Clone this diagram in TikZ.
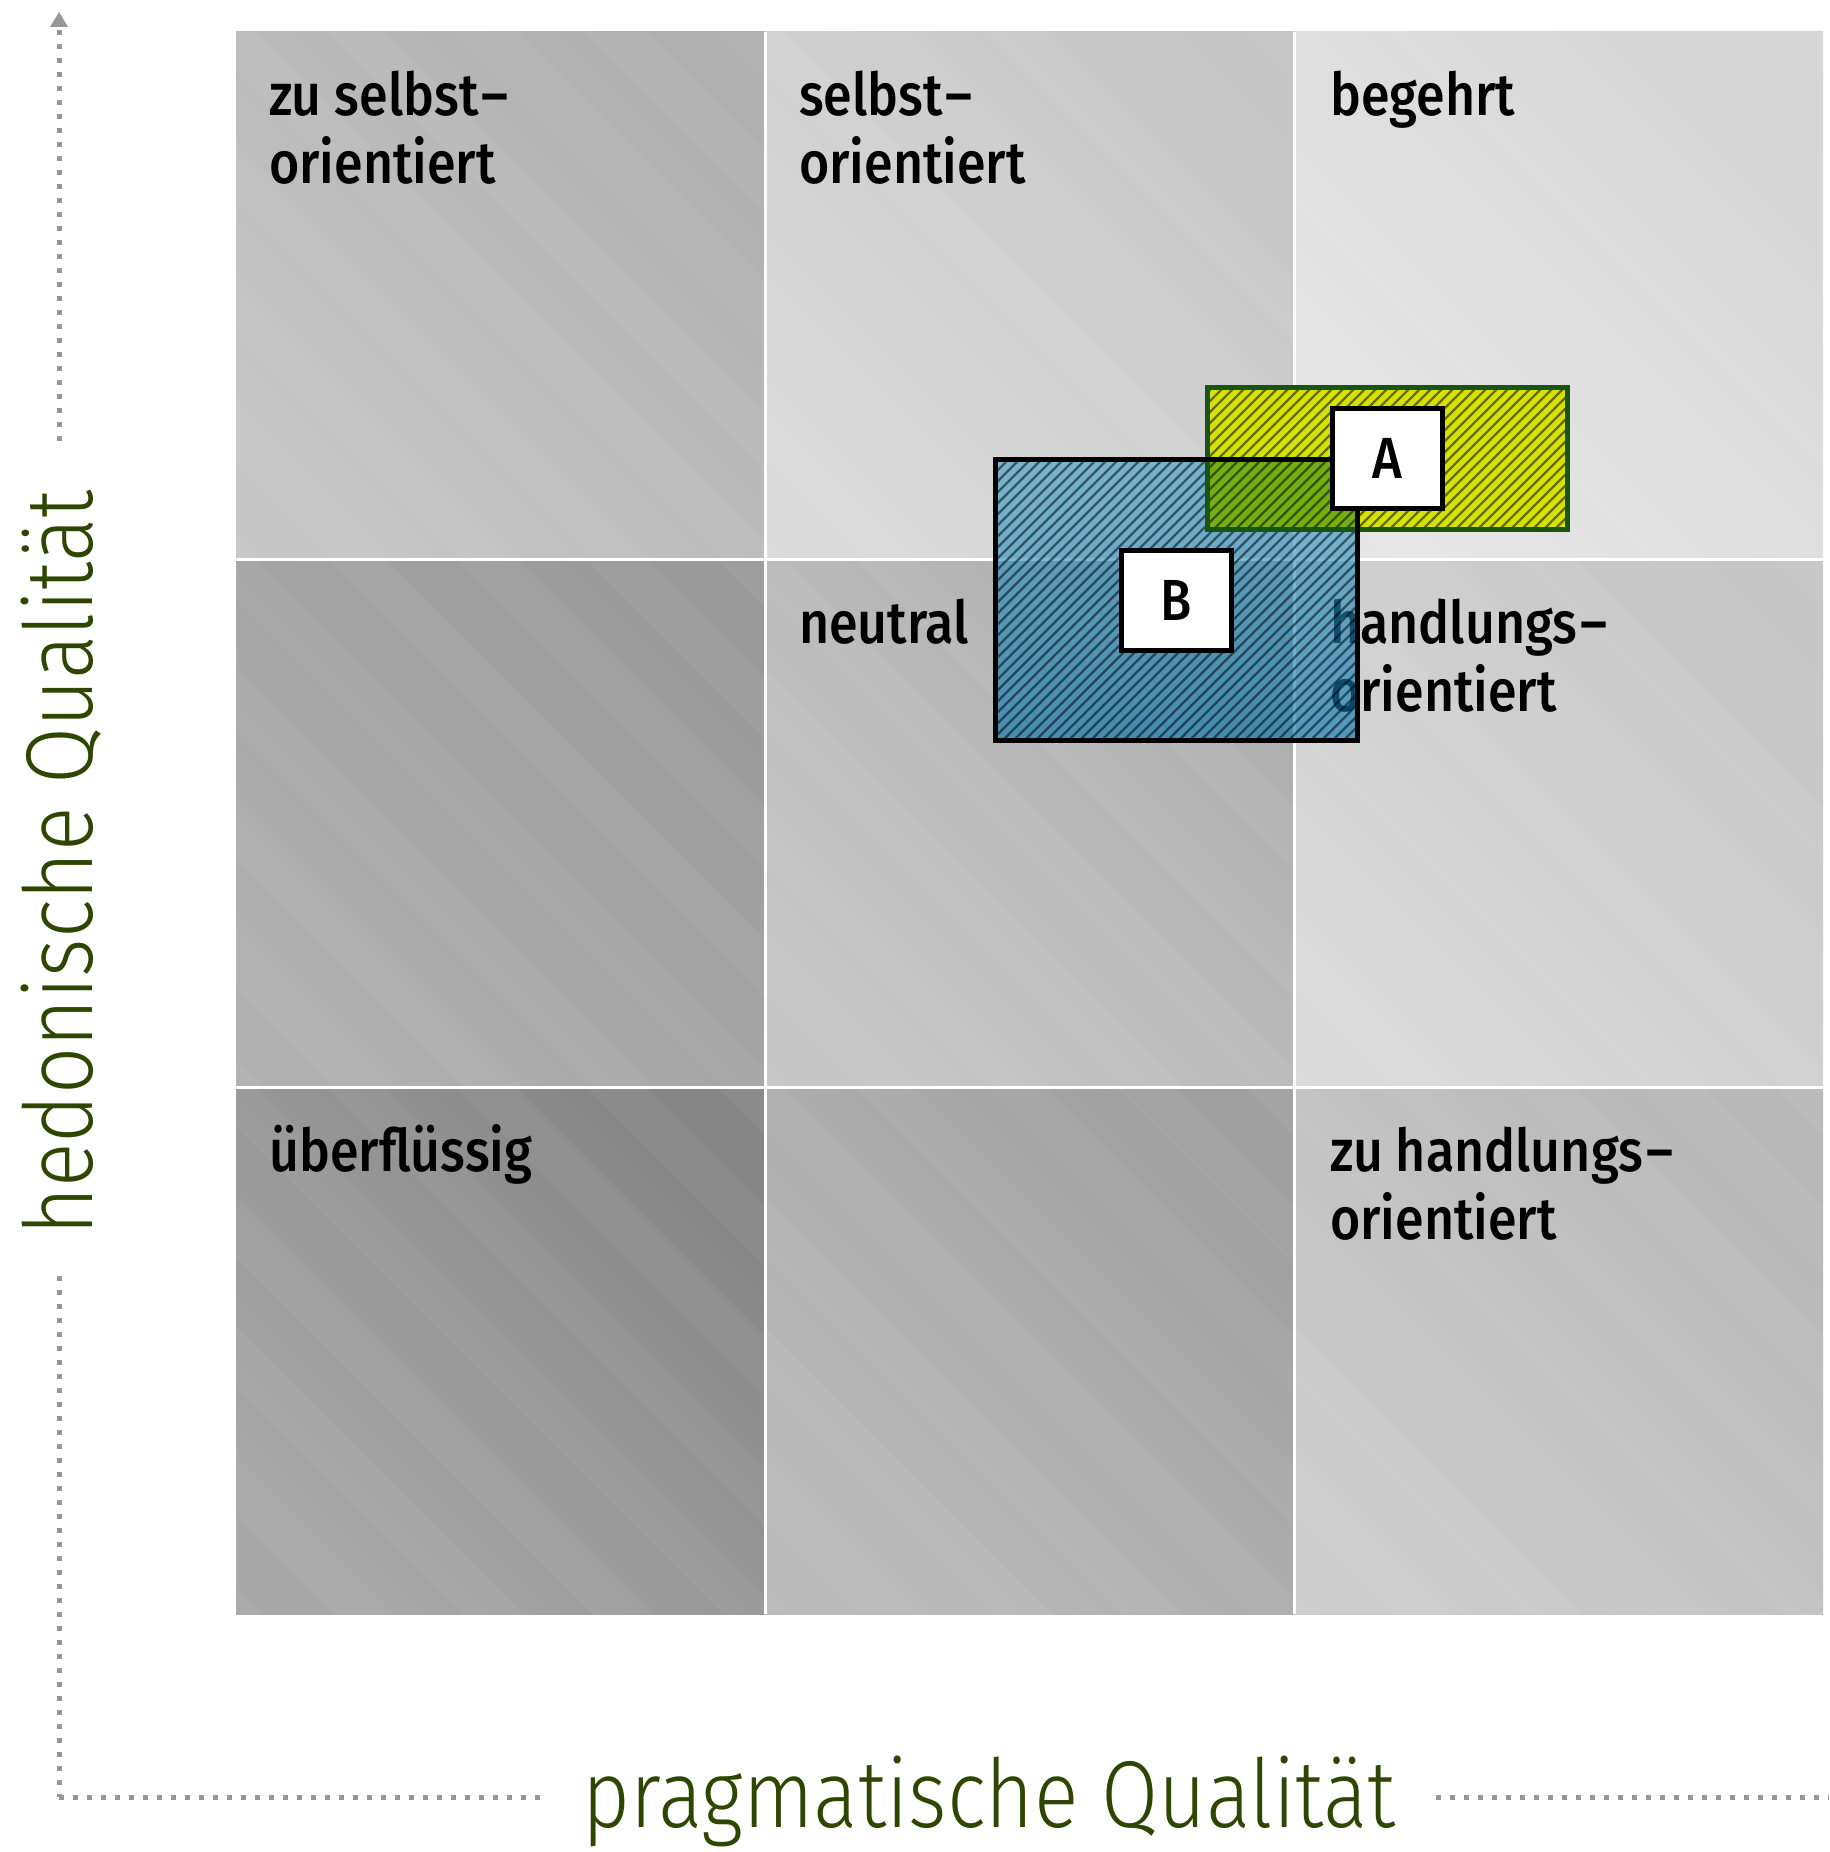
\documentclass[tikz,border=0pt]{standalone}
\usepackage{fontspec}
\setmainfont{Fira Sans Medium}[FakeStretch=0.88]
\newfontfamily\axisfont{Fira Sans Light}[FakeStretch=0.87]
\definecolor{dotgray}{HTML}{979797}
\definecolor{axisgreen}{HTML}{2E4600}
\definecolor{afillc}{HTML}{D6E200}
\definecolor{aborderc}{HTML}{175510}
\definecolor{btop}{HTML}{41A1CB}
\definecolor{bbot}{HTML}{0072AC}
\definecolor{ovgreen}{HTML}{74AE10}
\definecolor{cAl}{HTML}{C6C6C6}\definecolor{cAd}{HTML}{B0B0B0}
\definecolor{cBl}{HTML}{DADADA}\definecolor{cBd}{HTML}{C6C6C6}
\definecolor{cCl}{HTML}{E6E6E6}\definecolor{cCd}{HTML}{D6D6D6}
\definecolor{cDl}{HTML}{B0B0B0}\definecolor{cDd}{HTML}{9A9A9A}
\definecolor{cEl}{HTML}{C6C6C6}\definecolor{cEd}{HTML}{AEAEAE}
\definecolor{cFl}{HTML}{DADADA}\definecolor{cFd}{HTML}{C6C6C6}
\definecolor{cGl}{HTML}{A8A8A8}\definecolor{cGd}{HTML}{868686}
\definecolor{cHl}{HTML}{BABABA}\definecolor{cHd}{HTML}{A0A0A0}
\definecolor{cIl}{HTML}{CCCCCC}\definecolor{cId}{HTML}{B8B8B8}
\newcommand\twoline[2]{\vtop{\hbox{#1}\hbox{#2}}}
\newcommand\hy{\kern3pt–}
\newcommand\cellshade[4]{%
  \shade[shading=axis, bottom color=#3, top color=#4, shading angle=-45] (#1,#2) rectangle ++(529,527);
  \begin{scope}
    \clip (#1,#2) rectangle ++(529,527);
    \foreach \d in {-560,-430,...,520}
      \fill[white, opacity=0.045] ({#1+\d},#2) -- ++(60,0) -- ++(600,600) -- ++(-60,0) -- cycle;
  \end{scope}}
\begin{document}
\begin{tikzpicture}[x=1pt,y=-1pt,
  celltext/.style={anchor=base west, inner sep=0pt, font=\fontsize{59}{68}\selectfont, text=black},
  axislabel/.style={font=\axisfont\fontsize{95}{100}\selectfont, text=axisgreen, inner xsep=40pt, inner ysep=0pt},
  dotline/.style={draw=dotgray, line width=5pt, dash pattern=on 5pt off 9pt},
  gridline/.style={draw=white, line width=3pt},
  labelbox/.style={draw=black, fill=white, line width=5pt, minimum width=110pt, minimum height=100pt, inner sep=0pt, font=\fontsize{58}{58}\selectfont},
  hatchline/.style={draw=black, draw opacity=0.52, line width=2.2pt},
  aborder/.style={draw=aborderc, line width=5pt},
  bborder/.style={draw=black, line width=5pt},
]
\useasboundingbox (0,0) rectangle (1829,1852);
\fill[white] (0,0) rectangle (1829,1852);

% cells
\cellshade{236}{32}{cAl}{cAd}
\cellshade{765}{32}{cBl}{cBd}
\cellshade{1294}{32}{cCl}{cCd}
\cellshade{236}{559}{cDl}{cDd}
\cellshade{765}{559}{cEl}{cEd}
\cellshade{1294}{559}{cFl}{cFd}
\cellshade{236}{1087}{cGl}{cGd}
\cellshade{765}{1087}{cHl}{cHd}
\cellshade{1294}{1087}{cIl}{cId}
\draw[gridline] (765,32) -- (765,1614);
\draw[gridline] (1294,32) -- (1294,1614);
\draw[gridline] (236,559) -- (1823,559);
\draw[gridline] (236,1087) -- (1823,1087);

% cell labels
\node[celltext] (t11) at (269,115) {\twoline{zu selbst\hy}{orientiert}};
\node[celltext] (t12) at (799,115) {\twoline{selbst\hy}{orientiert}};
\node[celltext] (t13) at (1330,115) {begehrt};
\node[celltext] (t22) at (799,643) {neutral};
\node[celltext] (t23) at (1330,643) {\twoline{handlungs\hy}{orientiert}};
\node[celltext] (t31) at (269,1171) {überflüssig};
\node[celltext] (t33) at (1330,1171) {\twoline{zu handlungs\hy}{orientiert}};

% regions A and B
\coordinate (Anw) at (1207,387); \coordinate (Ase) at (1567,529);
\coordinate (Bnw) at (995,459);  \coordinate (Bse) at (1357,740);
\fill[afillc] (Anw) rectangle (Ase);
\shade[top color=btop, bottom color=bbot, opacity=0.62] (Bnw) rectangle (Bse);
\begin{scope}
  \clip (Anw) rectangle (Ase);
  \fill[ovgreen] (Bnw) rectangle (Bse);
\end{scope}
\begin{scope}
  \clip (Anw) rectangle (Ase) (Bnw) rectangle (Bse);
  \foreach \c in {1380,1391,...,2310}
    \draw[hatchline] (990,{\c-990}) -- (1575,{\c-1575});
\end{scope}
\draw[aborder] (Anw) rectangle (Ase);
\draw[bborder] (Bnw) rectangle (Bse);
\node[labelbox] (la) at (1387,458) {A};
\node[labelbox] (lb) at (1176,600) {B};

% axes
\coordinate (O) at (59,1797);
\coordinate (ytop) at (59,30);
\coordinate (xend) at (1829,1797);
\node[axislabel, anchor=base] (xl) at (989,1827) {pragmatische Qualität};
\node[axislabel, rotate=90, anchor=base] (yl) at (92,863) {hedonische Qualität};
\draw[dotline] (O) -- (xl.west |- O);
\draw[dotline] (xl.east |- O) -- (xend);
\draw[dotline] (ytop) -- (ytop |- yl.east);
\draw[dotline] (O |- yl.west) -- (O);
\fill[dotgray] (59,12) -- (68,27) -- (50,27) -- cycle;
\end{tikzpicture}
\end{document}
